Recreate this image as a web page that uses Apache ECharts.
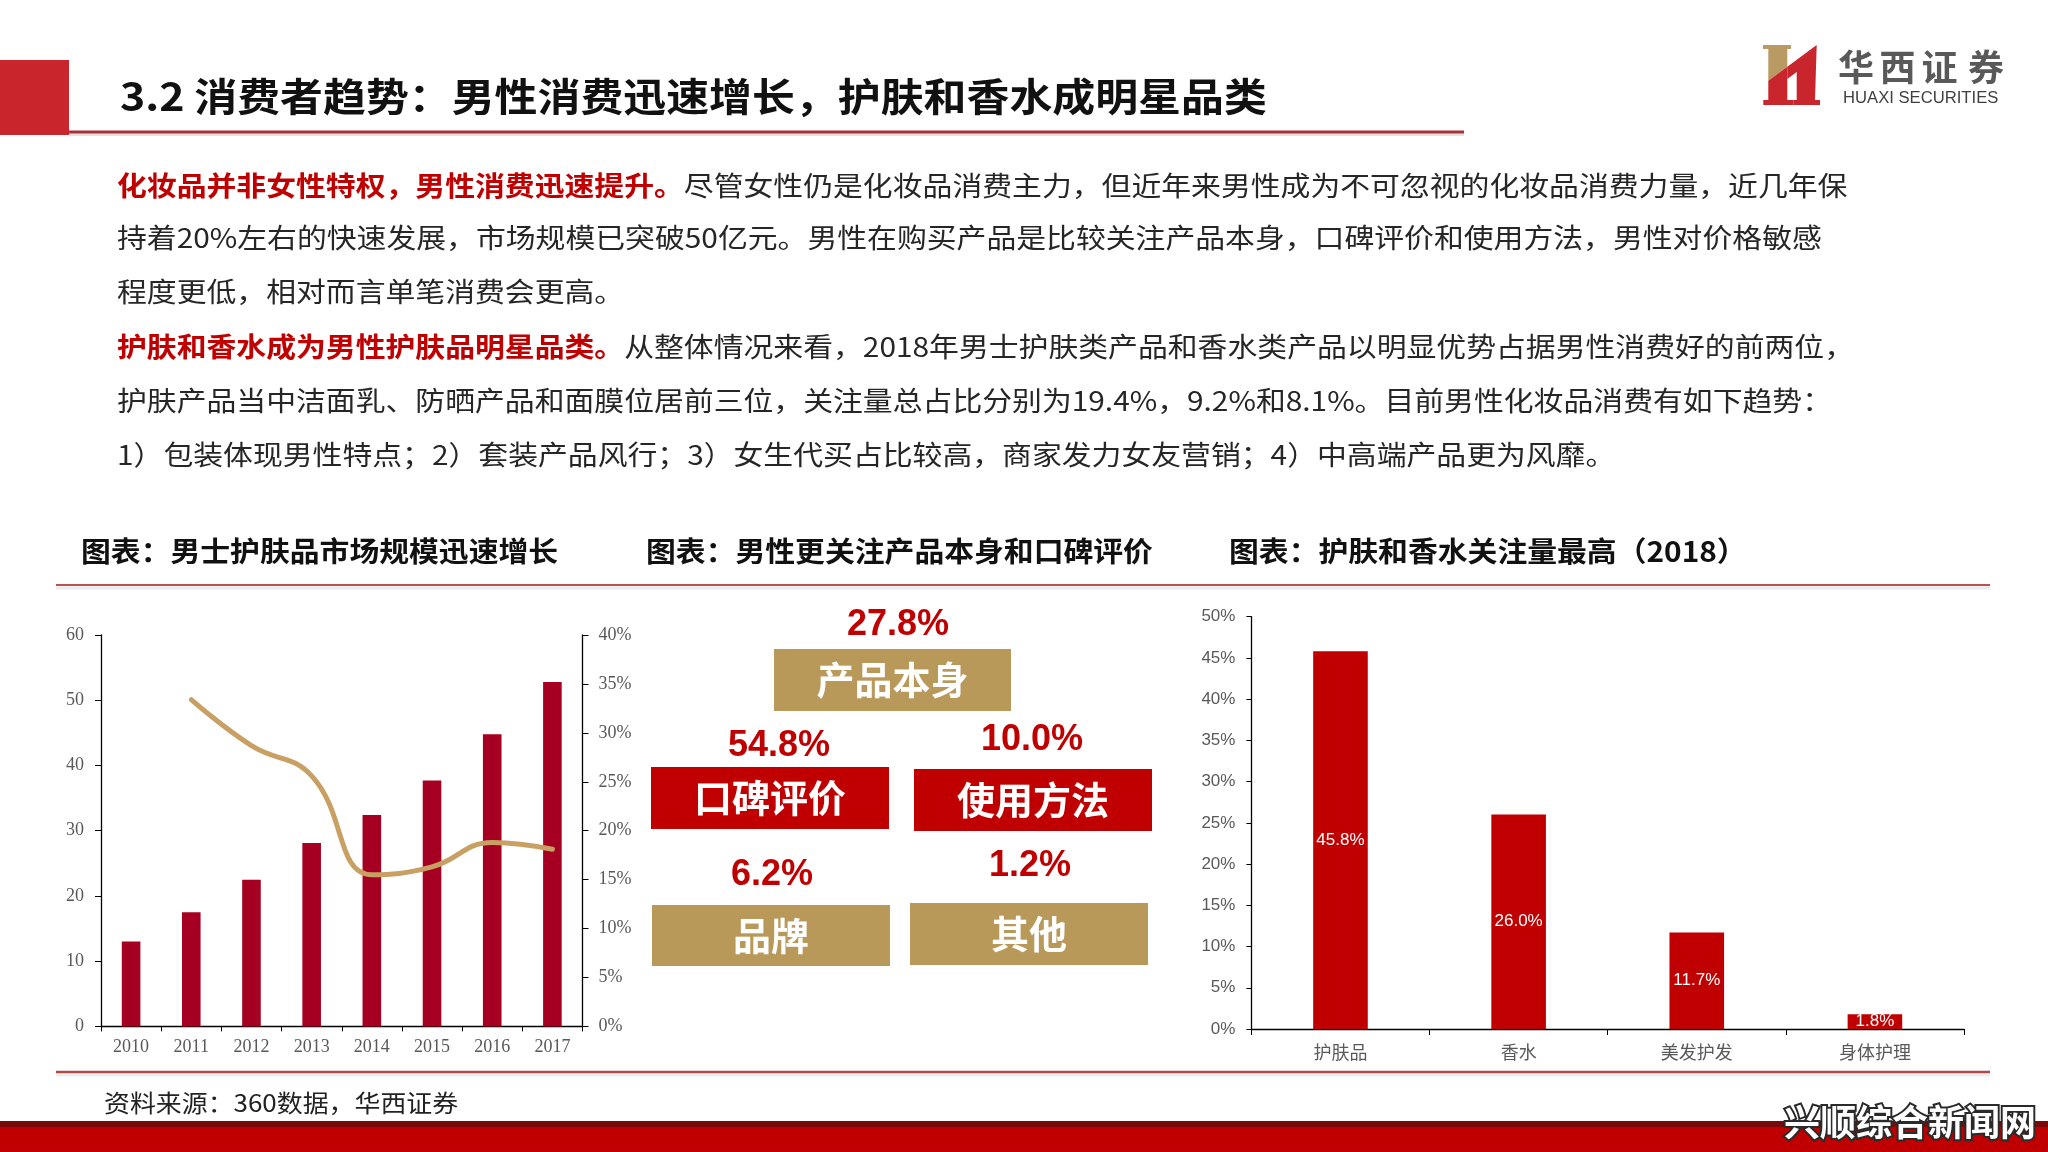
<!DOCTYPE html>
<html><head><meta charset="utf-8">
<script src="https://cdn.jsdelivr.net/npm/echarts@6/dist/echarts.min.js"></script>
<style>html,body{margin:0;padding:0;background:#fff}#c{width:2048px;height:1152px}</style>
</head><body><div id="c"></div>
<script>
// ---------- data ----------
const years = ['2010','2011','2012','2013','2014','2015','2016','2017'];
const marketSize = [13.0, 17.5, 22.5, 28.1, 32.4, 37.7, 44.8, 52.8];      // 亿元
const growthRate = [null, 33.4, 28.7, 25.6, 15.5, 16.3, 18.8, 18.1];       // %
const focusCategories = ['护肤品','香水','美发护发','身体护理'];
const focusShare = [45.8, 26.0, 11.7, 1.8];                                // %
const factorNames = ['产品本身','口碑评价','使用方法','品牌','其他'];
const factorShare = [27.8, 54.8, 10.0, 6.2, 1.2];                          // %

const titleText = '3.2 消费者趋势：男性消费迅速增长，护肤和香水成明星品类';
const paraLines = [
  ['化妆品并非女性特权，男性消费迅速提升。','尽管女性仍是化妆品消费主力，但近年来男性成为不可忽视的化妆品消费力量，近几年保'],
  ['','持着20%左右的快速发展，市场规模已突破50亿元。男性在购买产品是比较关注产品本身，口碑评价和使用方法，男性对价格敏感'],
  ['','程度更低，相对而言单笔消费会更高。'],
  ['护肤和香水成为男性护肤品明星品类。','从整体情况来看，2018年男士护肤类产品和香水类产品以明显优势占据男性消费好的前两位，'],
  ['','护肤产品当中洁面乳、防晒产品和面膜位居前三位，关注量总占比分别为19.4%，9.2%和8.1%。目前男性化妆品消费有如下趋势：'],
  ['','1）包装体现男性特点；2）套装产品风行；3）女生代买占比较高，商家发力女友营销；4）中高端产品更为风靡。']
];
const chartTitles = ['图表：男士护肤品市场规模迅速增长','图表：男性更关注产品本身和口碑评价','图表：护肤和香水关注量最高（2018）'];
const sourceText = '资料来源：360数据，华西证券';

// ---------- layout / styles ----------
const CJK = '"Noto Sans CJK SC","Noto Sans",sans-serif';
const SERIF = '"Liberation Serif","Times New Roman",serif';
const NARROW = '"Liberation Sans Narrow","Liberation Sans","Noto Sans CJK SC",sans-serif';
const RED = '#C00000', TAN = '#B8995A', DARKRED = '#A50021', GOLD = '#C9A063';
const paraY = [186, 238, 292, 347, 401, 455];
const chartTitleX = [81, 646, 1229];
const factorLayout = [
  {x: 774, y: 649, w: 237, h: 62, fill: TAN, nx: 898, ny: 625},
  {x: 651, y: 767, w: 238, h: 62, fill: RED, nx: 779, ny: 746},
  {x: 914, y: 769, w: 238, h: 62, fill: RED, nx: 1032, ny: 740},
  {x: 652, y: 905, w: 238, h: 61, fill: TAN, nx: 772, ny: 875},
  {x: 910, y: 903, w: 238, h: 62, fill: TAN, nx: 1030, ny: 866}
];

const els = [];
function line(x1,y1,x2,y2,stroke,w){ els.push({type:'line',shape:{x1,y1,x2,y2},style:{stroke,lineWidth:w}}); }
function text(x,y,t,o){
  o = o||{};
  els.push({type:'text', x, y, scaleX:o.sx||1, z: o.z||10,
    style:Object.assign({text:t, fill:o.fill||'#222', fontSize:o.size||20, fontWeight:o.weight||'normal',
      fontFamily:o.family||CJK, align:o.align||'left', verticalAlign:'middle'}, o.extra||{})});
}

// title bar
els.push({type:'rect', shape:{x:0,y:60,width:69,height:75}, style:{fill:'#C9252C'}});
text(120, 96, titleText, {size:39, weight:'bold', fill:'#111', sx:1.1});
line(69, 134.5, 1464, 134.5, '#E6E0E0', 3);
line(69, 132, 1464, 132, '#A8323A', 3);

// logo
els.push({type:'polygon', shape:{points:[[1763,45],[1791,45],[1791,49],[1787.3,49],[1787.3,66.7],[1768.3,80.7],[1768.3,49],[1763,49]]}, style:{fill:'#B99A62'}});
els.push({type:'polygon', shape:{points:[[1768.3,80.7],[1787.3,66.7],[1787.3,100],[1793.3,100],[1793.3,105],[1763.3,105],[1763.3,100],[1768.3,100]]}, style:{fill:'#C9252C'}});
els.push({type:'polygon', shape:{points:[[1787.3,66.7],[1816.7,45],[1815,100],[1820,100],[1820,105],[1793.3,105],[1793.3,100],[1796.7,100],[1796.7,72],[1787.3,79]]}, style:{fill:'#C9252C'}});
['华','西','证','券'].forEach((c,i)=>text([1856,1897.5,1939.5,1986][i], 67, c, {size:36, weight:'bold', fill:'#595959', align:'center'}));
text(1843, 98.5, 'HUAXI SECURITIES', {size:16, fill:'#404040', family:'"Liberation Sans",sans-serif', sx:1.04});

// paragraphs
paraLines.forEach((p,i)=>{
  const t = (p[0] ? '{r|'+p[0]+'}' : '') + '{n|'+p[1]+'}';
  els.push({type:'text', x:117, y:paraY[i], scaleX:1.105, z:10,
    style:{text:t, verticalAlign:'middle', align:'left',
      rich:{ r:{fill:RED, fontSize:27, fontWeight:'bold', fontFamily:CJK},
             n:{fill:'#262626', fontSize:27, fontFamily:CJK} }}});
});

// chart titles + separator lines
chartTitles.forEach((t,i)=>text(chartTitleX[i], 551, t, {size:28, weight:'bold', fill:'#111', sx:1.065}));
line(56, 588, 1990, 588, '#ECECEC', 3);
line(56, 585, 1990, 585, '#C0504D', 2);
line(56, 1075, 1990, 1075, '#ECECEC', 3);
line(56, 1072, 1990, 1072, '#B04848', 2.5);

// factor boxes (middle)
factorNames.forEach((n,i)=>{
  const L = factorLayout[i];
  els.push({type:'rect', shape:{x:L.x,y:L.y,width:L.w,height:L.h}, style:{fill:L.fill}});
  text(L.x+L.w/2, L.y+L.h/2, n, {size:38, weight:'bold', fill:'#fff', align:'center'});
  text(L.nx, L.ny, factorShare[i].toFixed(1)+'%', {size:36, weight:'bold', fill:RED, align:'center', family:'"Liberation Sans",Arial,sans-serif'});
});

// source + footer
text(104, 1103, sourceText, {size:24, fill:'#222', sx:1.08});
els.push({type:'rect', shape:{x:0,y:1121,width:2048,height:31}, style:{fill:RED}});
els.push({type:'rect', shape:{x:0,y:1121,width:2048,height:6}, style:{fill:'#7A0A0A'}});
text(1784, 1122, '兴顺综合新闻网', {size:36, weight:'bold', fill:'#fff', z:20, extra:{stroke:'#2a2a2a', lineWidth:4}});

// ---------- chart ----------
const axisBlack = {lineStyle:{color:'#000', width:1.3}};
const option = {
  animation:false,
  backgroundColor:'#fff',
  grid:[
    {left:101, top:635, width:481.5, height:391.4},
    {left:1251.4, top:616.7, width:712.6, height:412.3}
  ],
  xAxis:[
    {type:'category', gridIndex:0, data:years, axisLine:axisBlack,
     axisTick:{show:true, length:5, lineStyle:{color:'#000'}},
     axisLabel:{color:'#595959', fontSize:18, fontFamily:SERIF, margin:12}},
    {type:'category', gridIndex:1, data:focusCategories, axisLine:axisBlack,
     axisTick:{show:true, length:6, lineStyle:{color:'#000'}},
     axisLabel:{color:'#595959', fontSize:18, fontFamily:CJK, margin:14}}
  ],
  yAxis:[
    {type:'value', gridIndex:0, min:0, max:60, interval:10, axisLine:Object.assign({show:true},axisBlack),
     axisTick:{show:true, length:6, lineStyle:{color:'#000'}}, splitLine:{show:false},
     axisLabel:{color:'#595959', fontSize:18, fontFamily:SERIF, margin:17}},
    {type:'value', gridIndex:0, position:'right', min:0, max:40, interval:5, axisLine:Object.assign({show:true},axisBlack),
     axisTick:{show:true, length:6, lineStyle:{color:'#000'}}, splitLine:{show:false},
     axisLabel:{color:'#595959', fontSize:18, fontFamily:SERIF, margin:16, formatter:'{value}%'}},
    {type:'value', gridIndex:1, min:0, max:50, interval:5, axisLine:Object.assign({show:true},axisBlack),
     axisTick:{show:true, length:5, lineStyle:{color:'#000'}}, splitLine:{show:false},
     axisLabel:{color:'#595959', fontSize:17, fontFamily:NARROW, margin:16, formatter:'{value}%'}}
  ],
  series:[
    {type:'bar', xAxisIndex:0, yAxisIndex:0, data:marketSize, barWidth:18.6, itemStyle:{color:DARKRED}},
    {type:'line', xAxisIndex:0, yAxisIndex:1, data:growthRate, smooth:0.45, showSymbol:false,
     lineStyle:{color:GOLD, width:5, cap:'round'}, z:5},
    {type:'bar', xAxisIndex:1, yAxisIndex:2, data:focusShare, barWidth:54.6, itemStyle:{color:RED},
     label:{show:true, position:'inside', color:'#fff', fontSize:17, fontFamily:NARROW, formatter:p=>p.value.toFixed(1)+'%'}}
  ],
  graphic:{elements:els}
};
const chart = echarts.init(document.getElementById('c'), null, {renderer:'canvas'});
chart.setOption(option);
</script>
</body></html>
